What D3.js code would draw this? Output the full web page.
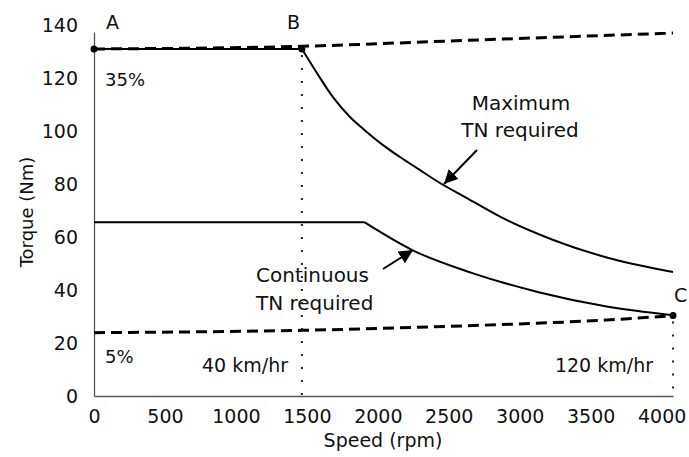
<html lang="en">
<head>
<meta charset="UTF-8">
<title>Torque vs Speed</title>
<script src="https://d3js.org/d3.v7.min.js"></script>
<style>
  body { margin: 0; background: #fff; }
  text { font-family: "DejaVu Sans", sans-serif; fill: #111; }
  .axis path { stroke: #555; stroke-width: 1.3; }
  .axis text { font-size: 19px; font-family: "DejaVu Sans", sans-serif; }
</style>
</head>
<body>
<div id="chart"></div>
<script>
// tick labels
const speedTicks = [0, 500, 1000, 1500, 2000, 2500, 3000, 3500, 4000];
const torqueTicks = [0, 20, 40, 60, 80, 100, 120, 140];

// maximum TN required (flat to B, then falls)
const maxSpeed = [0, 1465, 1571, 1684, 1804, 1924, 2037, 2156, 2276, 2438, 2628, 2861, 3232, 3613, 4080];
const maxTorque = [131, 131, 121.9, 112.8, 105.3, 99.6, 94.7, 90.2, 86.0, 80.4, 74.7, 67.7, 59.0, 52.3, 46.8];

// continuous TN required
const contSpeed = [0, 1905, 2242, 2666, 3140, 3613, 4080];
const contTorque = [65.6, 65.6, 55.1, 46.4, 39.1, 33.8, 30.5];

// road load on 35% and 5% grades
const grade35Speed = [0, 1465, 2500, 4080];
const grade35Torque = [131, 132, 134, 137];
const grade5Speed = [0, 1465, 2500, 3613, 4080];
const grade5Torque = [23.9, 24.8, 26.3, 28.7, 30.3];

// marked points
const pointNames = ["A", "B", "C"];
const pointSpeed = [0, 1465, 4080];
const pointTorque = [131, 131, 30.4];

const svgWidth = 689, svgHeight = 457;
const svg = d3.select("#chart").append("svg")
  .attr("width", svgWidth)
  .attr("height", svgHeight);

const x = d3.scaleLinear().domain([0, 4080]).range([94, 673]);
const y = d3.scaleLinear().domain([0, 137.4]).range([396, 32]);

const zip = (xs, ys) => xs.map((d, i) => [d, ys[i]]);
const straight = d3.line().x(d => x(d[0])).y(d => y(d[1]));
const smooth = d3.line().x(d => x(d[0])).y(d => y(d[1])).curve(d3.curveMonotoneX);

// axes
svg.append("g")
  .attr("class", "axis")
  .attr("transform", "translate(0,396)")
  .call(d3.axisBottom(x).tickValues(speedTicks).tickFormat(d3.format("d"))
    .tickSize(0).tickSizeOuter(0).tickPadding(14));

svg.append("g")
  .attr("class", "axis")
  .attr("transform", "translate(94,0)")
  .call(d3.axisLeft(y).tickValues(torqueTicks).tickFormat(d3.format("d"))
    .tickSize(0).tickSizeOuter(0).tickPadding(16));

svg.append("text")
  .attr("x", 383).attr("y", 447)
  .attr("text-anchor", "middle")
  .style("font-size", "19px")
  .text("Speed (rpm)");

svg.append("text")
  .attr("transform", "rotate(-90)")
  .attr("x", -212).attr("y", 33)
  .attr("text-anchor", "middle")
  .style("font-size", "18px")
  .text("Torque (Nm)");

// dotted verticals at B and C
[1, 2].forEach(i => {
  svg.append("line")
    .attr("x1", x(pointSpeed[i])).attr("x2", x(pointSpeed[i]))
    .attr("y1", y(pointTorque[i]) + 6).attr("y2", y(0))
    .attr("stroke", "#222").attr("stroke-width", 2)
    .attr("stroke-dasharray", "2,11");
});

// solid curves
const maxPts = zip(maxSpeed, maxTorque);
const contPts = zip(contSpeed, contTorque);
const solid = [
  straight(maxPts.slice(0, 2)), smooth(maxPts.slice(1)),
  straight(contPts.slice(0, 2)), smooth(contPts.slice(1))
];
solid.forEach(d => {
  svg.append("path").attr("d", d)
    .attr("fill", "none").attr("stroke", "#000").attr("stroke-width", 2);
});

// dashed grade lines
[zip(grade35Speed, grade35Torque), zip(grade5Speed, grade5Torque)].forEach(pts => {
  svg.append("path").attr("d", smooth(pts))
    .attr("fill", "none").attr("stroke", "#000").attr("stroke-width", 3)
    .attr("stroke-dasharray", "11,6");
});

// points
svg.selectAll(".pt")
  .data(pointNames)
  .enter().append("circle")
  .attr("cx", (d, i) => x(pointSpeed[i]))
  .attr("cy", (d, i) => y(pointTorque[i]))
  .attr("r", 3.5)
  .attr("fill", "#000");

// labels
const labels = [
  { t: "A", x: 106, y: 29, s: 19, a: "start" },
  { t: "B", x: 287, y: 29, s: 19, a: "start" },
  { t: "C", x: 674, y: 302, s: 19, a: "start" },
  { t: "35%", x: 105, y: 86, s: 18, a: "start" },
  { t: "5%", x: 105, y: 363, s: 18, a: "start" },
  { t: "40 km/hr", x: 288, y: 372, s: 19, a: "end" },
  { t: "120 km/hr", x: 653, y: 372, s: 19, a: "end" },
  { t: "Maximum", x: 521, y: 110, s: 20, a: "middle" },
  { t: "TN required", x: 520, y: 137, s: 20, a: "middle" },
  { t: "Continuous", x: 256, y: 282, s: 20, a: "start" },
  { t: "TN required", x: 256, y: 310, s: 20, a: "start" }
];
svg.selectAll(".lbl")
  .data(labels)
  .enter().append("text")
  .attr("x", d => d.x).attr("y", d => d.y)
  .attr("text-anchor", d => d.a)
  .style("font-size", d => d.s + "px")
  .text(d => d.t);

// arrows
svg.append("defs").append("marker")
  .attr("id", "head")
  .attr("viewBox", "0 0 10 10")
  .attr("refX", 10).attr("refY", 5)
  .attr("markerWidth", 7).attr("markerHeight", 7)
  .attr("markerUnits", "strokeWidth")
  .attr("orient", "auto")
  .append("path").attr("d", "M0,0 L10,5 L0,10 Z").attr("fill", "#000");

[[477, 150, 444, 184], [383, 269, 413, 250]].forEach(a => {
  svg.append("line")
    .attr("x1", a[0]).attr("y1", a[1]).attr("x2", a[2]).attr("y2", a[3])
    .attr("stroke", "#000").attr("stroke-width", 2)
    .attr("marker-end", "url(#head)");
});
</script>
</body>
</html>
